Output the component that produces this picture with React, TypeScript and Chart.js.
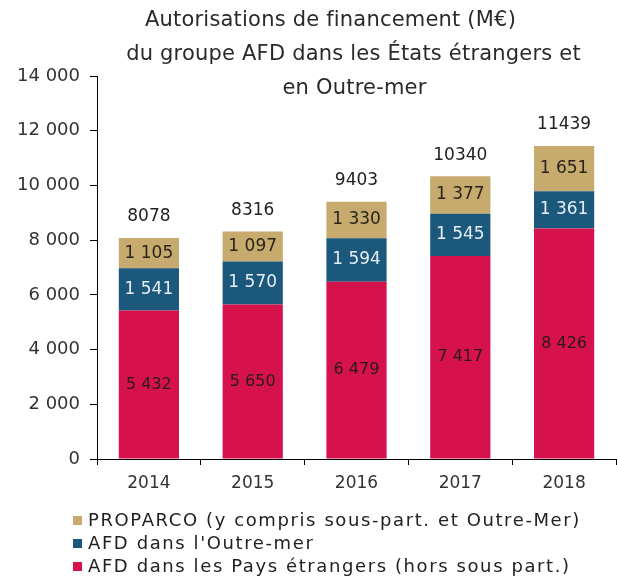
import React, { useEffect, useRef } from "react";
import { Chart, registerables } from "chart.js";

Chart.register(...registerables);

const years = ["2014", "2015", "2016", "2017", "2018"];
const paysEtrangers = [5432, 5650, 6479, 7417, 8426];
const outreMer = [1541, 1570, 1594, 1545, 1361];
const proparco = [1105, 1097, 1330, 1377, 1651];
const totals = [8078, 8316, 9403, 10340, 11439];
const titleLines = [
  "Autorisations de financement (M€)",
  "du groupe AFD dans les États étrangers et",
  "en Outre-mer",
];
const legendOrder = [2, 1, 0];

const FONT = "'DejaVu Sans', sans-serif";
const RED = "#d5124c";
const BLUE = "#1c577c";
const GOLD = "#c6aa6e";

const fmt = (v: number) => String(v).replace(/\B(?=(\d{3})+(?!\d))/g, " ");

const overlayPlugin = {
  id: "overlay",
  afterDatasetsDraw(chart: any) {
    const ctx = chart.ctx;
    ctx.save();
    ctx.textAlign = "center";
    ctx.textBaseline = "middle";
    const labelColors = ["#2a1a1a", "#e6eef5", "#2b2418"];
    const labelSizes = [16, 17, 17];
    chart.data.datasets.forEach((ds: any, di: number) => {
      const meta = chart.getDatasetMeta(di);
      meta.data.forEach((el: any, i: number) => {
        const { x, y, base } = el.getProps(["x", "y", "base"], true);
        ctx.fillStyle = labelColors[di];
        ctx.font = `${labelSizes[di]}px ${FONT}`;
        ctx.fillText(fmt(ds.data[i]), x, (y + base) / 2);
      });
    });
    // totals
    const top = chart.getDatasetMeta(chart.data.datasets.length - 1);
    const yScale = chart.scales.y;
    ctx.fillStyle = "#222";
    ctx.font = `17px ${FONT}`;
    top.data.forEach((el: any, i: number) => {
      const yy = yScale.getPixelForValue(totals[i]);
      ctx.fillText(String(totals[i]), el.x, yy - 21);
    });
    ctx.restore();
  },
  afterDraw(chart: any) {
    const ctx = chart.ctx;
    ctx.save();
    // title
    ctx.textAlign = "center";
    ctx.textBaseline = "middle";
    ctx.fillStyle = "#2a2a2a";
    ctx.font = `21px ${FONT}`;
    (ctx as any).letterSpacing = "0.2px";
    const cx = (chart.chartArea.left + chart.chartArea.right) / 2;
    const offs = [-26, -3, -2];
    titleLines.forEach((t, i) => {
      ctx.fillText(t, cx + offs[i], 21 + i * 34);
    });
    // legend
    ctx.textAlign = "left";
    ctx.font = `18px ${FONT}`;
    (ctx as any).letterSpacing = "1.6px";
    legendOrder.forEach((di, r) => {
      const ds = chart.data.datasets[di];
      const yy = 521 + r * 23;
      ctx.fillStyle = ds.backgroundColor;
      ctx.fillRect(73, yy - 5, 9, 9);
      ctx.fillStyle = "#222";
      ctx.fillText(ds.label, 88, yy);
    });
    ctx.restore();
  },
};

export default function App() {
  const ref = useRef<HTMLCanvasElement>(null);
  useEffect(() => {
    if (!ref.current) return;
    const chart = new Chart(ref.current, {
      type: "bar",
      data: {
        labels: years,
        datasets: [
          { label: "AFD dans les Pays étrangers (hors sous part.)", data: paysEtrangers, backgroundColor: RED },
          { label: "AFD dans l'Outre-mer", data: outreMer, backgroundColor: BLUE },
          { label: "PROPARCO (y compris sous-part. et Outre-Mer)", data: proparco, backgroundColor: GOLD },
        ],
      },
      options: {
        responsive: false,
        animation: false,
        devicePixelRatio: 1,
        layout: { padding: { top: 76, bottom: 87, left: 0, right: 1 } },
        datasets: { bar: { barPercentage: 0.58, categoryPercentage: 1 } } as any,
        plugins: { legend: { display: false }, title: { display: false }, tooltip: { enabled: false } },
        scales: {
          x: {
            stacked: true,
            grid: { drawOnChartArea: false, offset: true, tickLength: 6, color: "#000" },
            border: { color: "#000", width: 1 },
            ticks: { color: "#333", font: { family: FONT, size: 17 }, padding: 8 },
            afterFit: (s: any) => { s.height = 30; },
          },
          y: {
            stacked: true,
            min: 0,
            max: 14000,
            grid: { drawOnChartArea: false, tickLength: 7, color: "#000" },
            border: { color: "#000", width: 1 },
            ticks: {
              stepSize: 2000,
              color: "#333",
              font: { family: FONT, size: 18 },
              padding: 10,
              callback: (v: any) => fmt(Number(v)),
            },
            afterFit: (s: any) => { s.width = 97; },
          },
        },
      },
      plugins: [overlayPlugin],
    });
    return () => chart.destroy();
  }, []);
  return (
    <div style={{ position: "fixed", left: 0, top: 0, width: 617, height: 576, background: "#fff" }}>
      <canvas ref={ref} width={617} height={576} />
    </div>
  );
}
